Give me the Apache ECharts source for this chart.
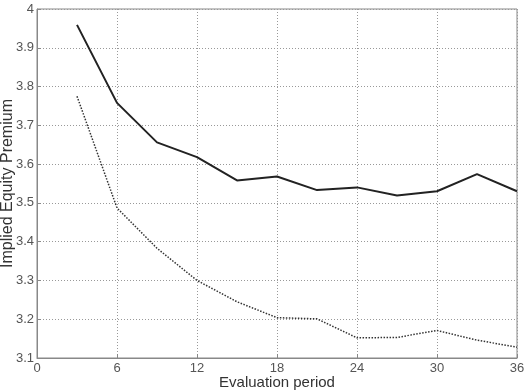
<!DOCTYPE html>
<html>
<head>
<meta charset="utf-8">
<script src="https://cdn.jsdelivr.net/npm/echarts@6/dist/echarts.min.js"></script>
<style>
  html, body { margin: 0; padding: 0; background: #fff; }
  #chart { width: 525px; height: 392px; }
</style>
</head>
<body>
<div id="chart"></div>
<script>
var periods = [3, 6, 9, 12, 15, 18, 21, 24, 27, 30, 33, 36];
var solidValues = [3.959, 3.758, 3.656, 3.618, 3.558, 3.568, 3.533, 3.540, 3.519, 3.530, 3.574, 3.530];
var dottedValues = [3.775, 3.487, 3.383, 3.300, 3.245, 3.204, 3.201, 3.152, 3.153, 3.171, 3.146, 3.128];

function pairs(vals) {
    return periods.map(function (p, i) { return [p, vals[i]]; });
}

var chart = echarts.init(document.getElementById('chart'));
var labelStyle = { color: '#555', fontFamily: 'Liberation Sans, Arial', fontSize: 13 };
var gridLine = { show: true, lineStyle: { color: '#999', type: [1, 2], width: 1 } };

option = {
    animation: false,
    grid: {
        left: 37, right: 8, top: 9, bottom: 34,
        outerBoundsMode: 'none', containLabel: false,
        show: true, borderColor: '#888', borderWidth: 1
    },
    xAxis: {
        type: 'value', min: 0, max: 36, interval: 6,
        name: 'Evaluation period', nameLocation: 'middle', nameGap: 17,
        nameMoveOverlap: false,
        nameTextStyle: { color: '#333', fontFamily: 'Liberation Sans, Arial', fontSize: 15 },
        axisLine: { lineStyle: { color: '#888' } },
        axisTick: { inside: true, length: 4, lineStyle: { color: '#888' } },
        axisLabel: Object.assign({ margin: 4 }, labelStyle),
        splitLine: gridLine
    },
    yAxis: {
        type: 'value', min: 3.1, max: 4, interval: 0.1,
        name: 'Implied Equity Premium', nameLocation: 'middle', nameGap: 21,
        nameMoveOverlap: false,
        nameTextStyle: { color: '#333', fontFamily: 'Liberation Sans, Arial', fontSize: 16 },
        axisLine: { lineStyle: { color: '#888' } },
        axisTick: { inside: true, length: 4, lineStyle: { color: '#888' } },
        axisLabel: Object.assign({ margin: 3, formatter: function (v) {
            return (Math.round(v * 10) / 10).toString();
        } }, labelStyle),
        splitLine: gridLine
    },
    series: [
        {
            name: 'solid', type: 'line', data: pairs(solidValues),
            symbol: 'none',
            lineStyle: { color: '#222', width: 2 }
        },
        {
            name: 'dotted', type: 'line', data: pairs(dottedValues),
            symbol: 'none',
            lineStyle: { color: '#333', width: 1.5, type: [1.5, 1.5] }
        }
    ]
};

chart.setOption(option);
</script>
</body>
</html>
